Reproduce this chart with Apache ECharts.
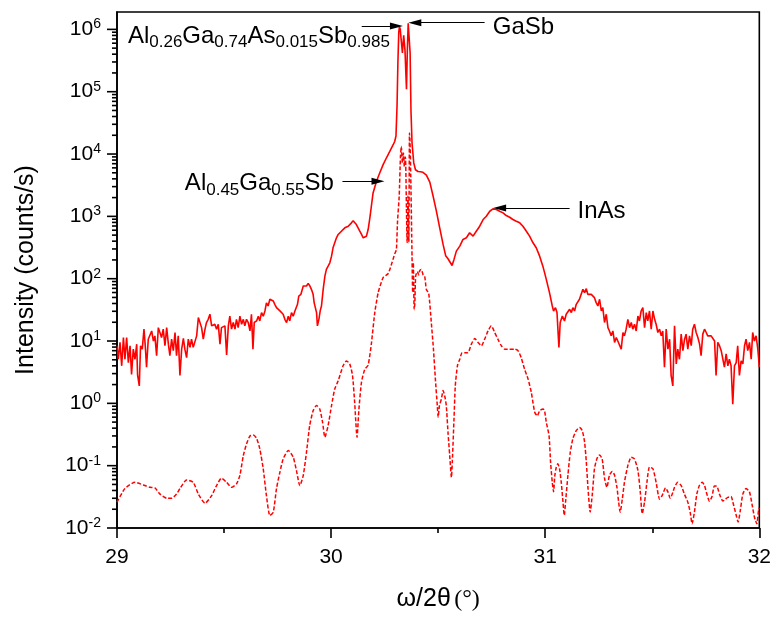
<!DOCTYPE html>
<html><head><meta charset="utf-8">
<script src="https://cdn.jsdelivr.net/npm/echarts@6/dist/echarts.min.js"></script>
<style>html,body{margin:0;padding:0;background:#fff}#c{width:774px;height:617px}</style>
</head><body><div id="c"></div>
<script>
// ---- axis values ----
const xTicks = [29, 30, 31, 32];
const yDecades = [0.01, 0.1, 1, 10, 100, 1000, 10000, 100000, 1000000];
const minorMultipliers = [2, 3, 4, 5, 6, 7, 8, 9];
const yMax = 1.9e6;

// ---- measured (solid) curve: [omega/2theta, counts/s] ----
const measured = [
[29.000,8.4],[29.006,5.1],[29.014,9.5],[29.022,4.0],[29.030,11.4],[29.037,5.1],[29.045,11.4],[29.053,4.5],[29.061,8.4],[29.068,2.9],[29.076,7.4],[29.084,5.1],[29.092,8.9],[29.096,2.9],[29.104,1.9],[29.110,8.4],[29.118,7.4],[29.126,15.5],[29.132,8.4],[29.138,3.8],[29.146,10.7],[29.154,11.4],[29.162,14.5],[29.170,10.0],[29.177,12.1],[29.185,5.8],[29.193,16.4],[29.201,17.5],[29.208,11.4],[29.216,15.5],[29.224,8.4],[29.232,16.4],[29.240,8.9],[29.247,5.8],[29.255,10.7],[29.263,7.0],[29.271,13.7],[29.278,5.8],[29.286,12.1],[29.294,2.8],[29.302,7.4],[29.310,11.0],[29.317,7.4],[29.325,5.4],[29.333,10.7],[29.341,7.9],[29.348,10.7],[29.356,7.9],[29.364,8.4],[29.372,12.1],[29.380,23.8],[29.387,22.3],[29.395,16.4],[29.403,10.7],[29.411,15.5],[29.418,19.8],[29.426,22.3],[29.434,26.9],[29.442,17.5],[29.450,16.4],[29.457,18.6],[29.465,15.5],[29.473,18.6],[29.481,8.9],[29.488,16.4],[29.496,15.5],[29.504,17.5],[29.512,6.0],[29.520,17.5],[29.527,25],[29.535,15.5],[29.543,19.8],[29.551,15.5],[29.558,22.3],[29.566,16.4],[29.574,25],[29.582,18.6],[29.590,22.3],[29.597,17.5],[29.605,22.3],[29.613,19.8],[29.621,14.5],[29.628,26.9],[29.635,7.4],[29.641,19.8],[29.652,21],[29.660,25],[29.667,21],[29.675,28.6],[29.683,25],[29.691,30.4],[29.698,41],[29.706,36.5],[29.714,46.7],[29.722,46.7],[29.730,43.9],[29.737,38.8],[29.745,34.3],[29.753,32.3],[29.761,30.4],[29.768,28.6],[29.776,26.9],[29.784,22.3],[29.792,19.8],[29.800,25],[29.807,21],[29.815,28.6],[29.823,25],[29.831,30.4],[29.838,32.3],[29.843,38.8],[29.849,52.7],[29.859,56.1],[29.870,76.2],[29.877,81.1],[29.885,76.2],[29.893,84.1],[29.901,76.2],[29.908,67.5],[29.916,56.1],[29.921,41],[29.927,43.9],[29.932,28.6],[29.936,17.5],[29.943,22.3],[29.949,30.4],[29.955,36.5],[29.963,67.5],[29.971,110],[29.978,141],[29.986,159],[29.994,180],[30.002,230],[30.009,313],[30.017,377],[30.025,453],[30.033,512],[30.041,545],[30.048,578],[30.056,615],[30.064,655],[30.080,695],[30.095,787],[30.103,850],[30.111,800],[30.118,740],[30.126,655],[30.134,578],[30.142,512],[30.150,453],[30.157,437],[30.165,481],[30.173,615],[30.181,946],[30.188,1452],[30.196,2375],[30.212,3650],[30.227,4963],[30.243,6750],[30.258,8630],[30.274,11000],[30.290,14100],[30.297,15900],[30.303,19500],[30.308,60000],[30.312,300000],[30.316,900000],[30.319,1100000],[30.323,1000000],[30.327,700000],[30.333,420000],[30.339,800000],[30.345,470000],[30.352,110000],[30.356,450000],[30.360,1250000],[30.364,1200000],[30.369,420000],[30.373,50000],[30.378,15000],[30.386,7200],[30.394,5600],[30.406,5250],[30.417,5200],[30.429,5100],[30.445,4600],[30.461,3550],[30.476,2140],[30.492,1200],[30.507,660],[30.523,355],[30.535,234],[30.546,209],[30.554,204],[30.565,163],[30.574,204],[30.585,277],[30.601,333],[30.616,426],[30.632,453],[30.647,545],[30.663,481],[30.678,578],[30.694,695],[30.710,890],[30.725,1005],[30.741,1208],[30.756,1318],[30.772,1285],[30.787,1208],[30.803,1138],[30.818,1030],[30.834,968],[30.849,890],[30.865,836],[30.881,787],[30.896,695],[30.912,578],[30.927,481],[30.943,377],[30.958,313],[30.974,230],[30.989,159],[30.997,125],[31.005,97.5],[31.020,59.7],[31.033,36.5],[31.039,30.3],[31.048,34.3],[31.055,28.6],[31.064,7.9],[31.070,19.8],[31.080,25.2],[31.090,21],[31.098,26.9],[31.106,25.2],[31.114,32.3],[31.122,28.6],[31.129,34.3],[31.137,30.3],[31.145,38.8],[31.153,41.3],[31.160,46.7],[31.168,43.9],[31.176,67.5],[31.184,59.7],[31.192,69.2],[31.199,56.1],[31.207,59.7],[31.215,56.1],[31.223,52.7],[31.230,49.6],[31.238,41.3],[31.246,36.5],[31.254,46.7],[31.262,30.3],[31.269,34.3],[31.277,19.8],[31.285,26.9],[31.293,16.4],[31.300,14.5],[31.308,12.1],[31.316,14.5],[31.324,9.5],[31.332,11.4],[31.339,10.0],[31.347,10.7],[31.355,7.4],[31.363,13.7],[31.370,12.1],[31.378,15.5],[31.386,22.3],[31.394,16.4],[31.402,19.8],[31.409,15.5],[31.417,18.6],[31.425,14.5],[31.433,25.2],[31.440,21],[31.448,30.3],[31.456,34.3],[31.464,16.4],[31.472,28.6],[31.479,21],[31.487,30.3],[31.495,15.5],[31.503,30.3],[31.511,22.3],[31.518,18.6],[31.526,13.7],[31.534,15.5],[31.542,12.1],[31.549,14.5],[31.557,3.8],[31.565,15.5],[31.573,7.4],[31.581,10.7],[31.588,2.8],[31.596,1.9],[31.604,17.5],[31.612,4.3],[31.619,7.4],[31.627,5.1],[31.635,12.9],[31.643,7.0],[31.651,10.7],[31.658,12.9],[31.666,7.4],[31.674,12.1],[31.682,8.4],[31.689,15.5],[31.697,18.6],[31.705,13.7],[31.713,11.4],[31.721,8.9],[31.728,5.8],[31.736,12.9],[31.744,15.5],[31.752,13.7],[31.759,12.1],[31.767,12.9],[31.775,12.1],[31.783,11.4],[31.791,10.0],[31.798,2.8],[31.806,9.5],[31.814,8.4],[31.822,7.0],[31.829,7.4],[31.837,3.8],[31.845,6.2],[31.853,4.0],[31.860,5.1],[31.868,4.0],[31.876,0.97],[31.884,4.0],[31.892,4.5],[31.899,8.4],[31.907,2.8],[31.915,4.8],[31.923,4.3],[31.931,8.4],[31.938,10.7],[31.946,7.0],[31.954,9.5],[31.962,5.1],[31.969,13.7],[31.977,10.0],[31.985,12.1],[31.993,7.4],[32.000,3.8]
];

// ---- simulated (dashed) curve ----
const simulated = [
[29.000,0.026],[29.037,0.043],[29.084,0.054],[29.123,0.049],[29.154,0.045],[29.177,0.044],[29.201,0.035],[29.232,0.030],[29.255,0.030],[29.278,0.035],[29.294,0.043],[29.325,0.059],[29.356,0.054],[29.380,0.035],[29.411,0.025],[29.442,0.033],[29.465,0.048],[29.488,0.063],[29.512,0.054],[29.535,0.045],[29.558,0.051],[29.574,0.070],[29.590,0.145],[29.605,0.223],[29.621,0.30],[29.636,0.31],[29.652,0.275],[29.667,0.186],[29.683,0.089],[29.698,0.033],[29.714,0.0159],[29.730,0.018],[29.745,0.043],[29.761,0.079],[29.776,0.128],[29.800,0.175],[29.823,0.137],[29.838,0.084],[29.854,0.048],[29.870,0.070],[29.885,0.164],[29.900,0.44],[29.916,0.76],[29.932,0.92],[29.947,0.81],[29.960,0.50],[29.971,0.286],[29.986,0.44],[30.002,0.92],[30.017,1.7],[30.033,2.3],[30.056,4.0],[30.072,4.8],[30.087,4.3],[30.100,2.8],[30.110,1.04],[30.121,0.286],[30.130,0.81],[30.142,2.2],[30.157,3.5],[30.173,4.1],[30.188,9],[30.204,28.6],[30.220,60],[30.243,104],[30.266,120],[30.282,170],[30.297,250],[30.305,294],[30.310,800],[30.318,2100],[30.324,9200],[30.328,13200],[30.333,7200],[30.338,10400],[30.342,6300],[30.347,9000],[30.352,1300],[30.355,380],[30.359,2100],[30.363,380],[30.366,21700],[30.368,18000],[30.372,4400],[30.377,377],[30.381,60],[30.384,180],[30.388,32],[30.391,40],[30.395,110],[30.403,130],[30.409,115],[30.414,135],[30.421,141],[30.430,115],[30.437,110],[30.445,67],[30.456,58],[30.468,19.8],[30.478,7.4],[30.487,2.45],[30.496,0.92],[30.500,0.6],[30.506,0.92],[30.515,1.17],[30.523,1.6],[30.531,1.3],[30.538,0.92],[30.546,0.34],[30.554,0.145],[30.562,0.065],[30.566,0.114],[30.574,0.56],[30.580,1.9],[30.590,4.0],[30.601,5.1],[30.612,6.5],[30.624,6.5],[30.639,6.5],[30.655,8.9],[30.671,11],[30.686,9.5],[30.702,8.4],[30.717,10.7],[30.733,14.5],[30.748,17.5],[30.764,13.7],[30.779,10.7],[30.795,8.4],[30.811,7.4],[30.834,7.4],[30.857,7.4],[30.873,7.0],[30.888,5.4],[30.904,3.5],[30.920,2.45],[30.935,1.5],[30.951,0.72],[30.963,0.63],[30.974,0.76],[30.990,0.81],[30.997,0.76],[31.005,0.50],[31.018,0.30],[31.025,0.114],[31.033,0.054],[31.039,0.038],[31.045,0.070],[31.052,0.095],[31.059,0.107],[31.067,0.089],[31.075,0.054],[31.083,0.026],[31.089,0.0159],[31.095,0.026],[31.106,0.070],[31.117,0.164],[31.129,0.27],[31.145,0.365],[31.160,0.41],[31.173,0.365],[31.184,0.238],[31.192,0.114],[31.200,0.0426],[31.210,0.018],[31.220,0.035],[31.230,0.089],[31.241,0.128],[31.254,0.149],[31.266,0.128],[31.277,0.063],[31.288,0.045],[31.300,0.070],[31.313,0.081],[31.324,0.070],[31.335,0.045],[31.343,0.026],[31.350,0.018],[31.360,0.029],[31.370,0.054],[31.386,0.100],[31.402,0.137],[31.417,0.128],[31.433,0.084],[31.444,0.038],[31.453,0.017],[31.464,0.026],[31.475,0.054],[31.487,0.095],[31.503,0.089],[31.518,0.054],[31.534,0.029],[31.546,0.033],[31.562,0.044],[31.573,0.038],[31.584,0.030],[31.597,0.038],[31.604,0.045],[31.619,0.054],[31.635,0.048],[31.650,0.035],[31.666,0.026],[31.677,0.018],[31.686,0.0117],[31.697,0.018],[31.708,0.035],[31.720,0.048],[31.733,0.054],[31.744,0.048],[31.755,0.035],[31.767,0.027],[31.779,0.032],[31.790,0.047],[31.801,0.047],[31.814,0.035],[31.830,0.027],[31.842,0.029],[31.853,0.031],[31.868,0.032],[31.879,0.024],[31.892,0.016],[31.901,0.0125],[31.910,0.018],[31.923,0.035],[31.938,0.043],[31.954,0.038],[31.966,0.024],[31.977,0.015],[31.988,0.0117],[31.997,0.020],[32.000,0.021]
];

// ---- annotations (text anchored at left-middle, in data coordinates) ----
const annotationTexts = [
  '{m|Al}{s|0.26}{m|Ga}{s|0.74}{m|As}{s|0.015}{m|Sb}{s|0.985}',
  '{m|GaSb}',
  '{m|Al}{s|0.45}{m|Ga}{s|0.55}{m|Sb}',
  '{m|InAs}'
];
const annotationAnchors = [[29.051, 7.8e5], [30.755, 1.09e6], [29.317, 3350], [31.151, 1194]];
// arrows: [from x, to x, y]
const arrowDefs = [[30.143, 30.305, 1.13e6], [30.717, 30.391, 1.28e6], [30.053, 30.219, 3650], [31.114, 30.787, 1368]];

const FONT = '"Liberation Sans", Arial, sans-serif';
const chart = echarts.init(document.getElementById('c'), null, {renderer: 'canvas'});

const tickData = [];
yDecades.forEach(d => {
  tickData.push([xTicks[0], d, 1]);
  minorMultipliers.forEach(m => { if (d * m < yMax) tickData.push([xTicks[0], d * m, 0]); });
});

chart.setOption({
  animation: false,
  backgroundColor: '#fff',
  grid: {left: 117, right: 14, top: 12, bottom: 88, show: true, borderColor: '#000', borderWidth: 1.6, containLabel: false},
  xAxis: {
    type: 'value', min: xTicks[0], max: xTicks[xTicks.length - 1], interval: 1,
    axisLine: {lineStyle: {color: '#000', width: 1.6}},
    axisTick: {inside: false, length: 10, lineStyle: {color: '#000', width: 1.6}},
    minorTick: {show: true, splitNumber: 2, length: 5, lineStyle: {color: '#000', width: 1.6}},
    splitLine: {show: false},
    axisLabel: {color: '#000', fontSize: 21, fontFamily: FONT, margin: 19},
    name: '{a|ω/2θ} {b|(°)}', nameLocation: 'middle', nameGap: 59,
    nameTextStyle: {rich: {a: {fontSize: 25, fontFamily: FONT, color: '#000'}, b: {fontSize: 24, fontFamily: '"Liberation Serif", serif', color: '#000'}}}
  },
  yAxis: {
    type: 'log', logBase: 10, min: yDecades[0], max: yMax,
    axisLine: {lineStyle: {color: '#000', width: 1.6}},
    axisTick: {show: false},
    splitLine: {show: false},
    axisLabel: {
      showMaxLabel: false, showMinLabel: true, margin: 16,
      formatter: v => '{b|10}{s|' + Math.round(Math.log10(v)) + '}',
      rich: {
        b: {fontSize: 21, lineHeight: 24, fontFamily: FONT, color: '#000'},
        s: {fontSize: 14, lineHeight: 14, verticalAlign: 'top', fontFamily: FONT, color: '#000'}
      }
    },
    name: 'Intensity (counts/s)', nameLocation: 'middle', nameGap: 78,
    nameTextStyle: {fontSize: 25, fontFamily: FONT, color: '#000'}
  },
  series: [
    {
      type: 'custom', silent: true, clip: false, z: 5,
      data: tickData,
      renderItem: (params, api) => {
        const p = api.coord([api.value(0), api.value(1)]);
        const len = api.value(2) ? 10 : 5;
        return {type: 'line', shape: {x1: p[0] - len, y1: p[1], x2: p[0], y2: p[1]}, style: {stroke: '#000', lineWidth: 1.6}};
      }
    },
    {
      type: 'line', data: measured, showSymbol: false, symbol: 'none',
      lineStyle: {color: '#ff0000', width: 1.6}, z: 3,
      markLine: {
        silent: true, animation: false, symbol: ['none', 'triangle'], symbolSize: [7, 13],
        lineStyle: {color: '#000', width: 1, type: 'solid'}, label: {show: false},
        data: arrowDefs.map(a => [{coord: [a[0], a[2]]}, {coord: [a[1], a[2]]}])
      },
      markPoint: {
        silent: true, animation: false, symbol: 'circle', symbolSize: 0,
        label: {
          show: true, position: 'right', distance: 0,
          rich: {
            m: {fontSize: 24, lineHeight: 30, fontFamily: FONT, color: '#000'},
            s: {fontSize: 17, lineHeight: 17, verticalAlign: 'bottom', fontFamily: FONT, color: '#000'}
          }
        },
        data: annotationAnchors.map((c, i) => ({coord: c, value: i, label: {formatter: annotationTexts[i]}}))
      }
    },
    {
      type: 'line', data: simulated, showSymbol: false, symbol: 'none', smooth: 0.2,
      lineStyle: {color: '#ff0000', width: 1.5, type: [4, 2]}, z: 2
    }
  ]
});
</script></body></html>
